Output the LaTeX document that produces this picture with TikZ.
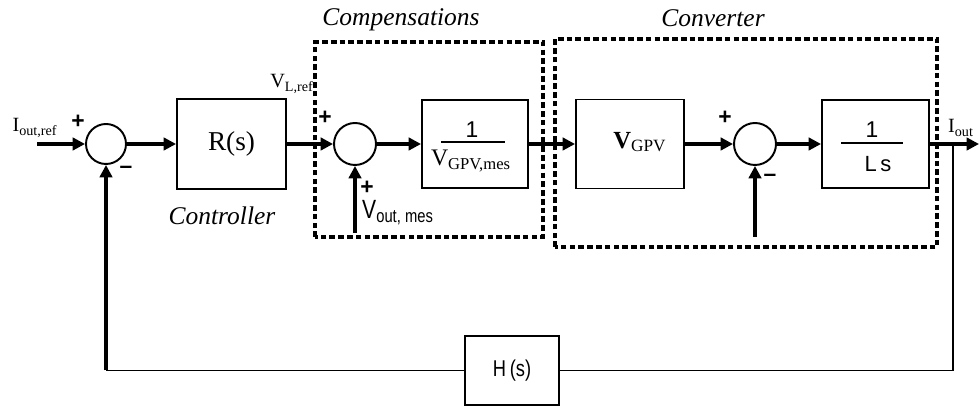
\documentclass[tikz,border=0pt]{standalone}
\usepackage{fontspec}
\setmainfont{Liberation Serif}
\newfontfamily\arialfont[Ligatures=TeX]{Liberation Sans}
\newfontfamily\narrowfont[FakeStretch=0.8]{Liberation Sans}
\usetikzlibrary{arrows.meta}

\begin{document}
\begin{tikzpicture}[
		scale=1,
		every node/.style={inner sep=0pt, font=\fontsize{11.5}{13}\selectfont},
		block/.style={rectangle, draw, line width=1.1pt, minimum width=2.16cm, minimum height=1.78cm},
		sumnode/.style={circle, draw, line width=1.1pt, minimum size=0.82cm},
		sign/.style={font=\arialfont\bfseries\fontsize{13}{13}\selectfont},
		caption/.style={font=\itshape\fontsize{14.5}{16}\selectfont},
		signal/.style={line width=1.8pt, -{Triangle[length=7pt, width=7pt]}},
		feedback/.style={line width=0.8pt},
		group/.style={draw, line width=2pt, dash pattern=on 3.2pt off 1.8pt}
	]
  \useasboundingbox (0,0) rectangle (19.58,8.12);
  \draw [group] (6.30,3.38) rectangle (10.86,7.28);
  \draw [group] (11.10,3.18) rectangle (18.74,7.34);
  \node (comp_label) [caption] at (8.02,7.72) {Compensations};
  \node (conv_label) [caption] at (14.26,7.76) {Converter};
  \coordinate (in) at (0.74,5.24);
  \node (in_label) at (0.70,5.56) {I\textsubscript{out,ref}};
  \node (sum1) [sumnode, minimum size=0.8cm] at (2.12,5.24) {};
  \node (sum1_plus) [sign] at (1.56,5.68) {+};
  \node (sum1_minus) [sign] at (2.52,4.72) {–};
  \node (R) [block, minimum width=2.18cm, minimum height=1.8cm, font=\fontsize{15.5}{17}\selectfont] at (4.63,5.24) {R(s)};
  \node (controller) [caption] at (4.44,3.80) {Controller};
  \node (VL_label) at (5.84,6.44) {V\textsubscript{L,ref}};
  \node (sum2) [sumnode, minimum size=0.84cm] at (7.10,5.24) {};
  \node (sum2_plus) [sign] at (6.50,5.76) {+};
  \node (sum2_plus_b) [sign] at (7.34,4.36) {+};
  \coordinate (vmes) at (7.10,3.46);
  \node (vmes_label) [font=\narrowfont\fontsize{15}{17}\selectfont] at (7.96,3.86) {V\textsubscript{out, mes}};
  \node (comp) [block, minimum width=2.12cm, minimum height=1.76cm] at (9.50,5.24) {};
  \node (comp_num) [font=\arialfont\fontsize{13}{14}\selectfont] at (9.44,5.52) {1};
  \draw [line width=1.2pt] (8.82,5.28) -- (10.10,5.28);
  \node (comp_den) [font=\fontsize{13.5}{15}\selectfont] at (9.42,4.90) {V\textsubscript{GPV,mes}};
  \node (VGPV) [block, minimum width=2.16cm, minimum height=1.78cm] at (12.60,5.24) {};
  \node (VGPV_text) [font=\fontsize{14}{15}\selectfont] at (12.80,5.28) {\textbf{V}\textsubscript{GPV}};
  \node (sum3) [sumnode, minimum size=0.84cm] at (15.10,5.24) {};
  \node (sum3_plus) [sign] at (14.50,5.76) {+};
  \node (sum3_minus) [sign] at (15.40,4.56) {–};
  \coordinate (vconv) at (15.10,3.38);
  \node (Ls) [block, minimum width=2.14cm, minimum height=1.76cm] at (17.51,5.24) {};
  \node (Ls_num) [font=\arialfont\fontsize{13}{14}\selectfont] at (17.44,5.52) {1};
  \draw [line width=1.2pt] (16.82,5.26) -- (18.06,5.26);
  \node (Ls_den) [font=\arialfont\fontsize{12.5}{14}\selectfont] at (17.56,4.84) {L\,s};
  \coordinate (branch) at (19.06,5.24);
  \coordinate (out) at (19.58,5.24);
  \node (out_label) at (19.22,5.56) {I\textsubscript{out}};
  \node (H) [block, line width=0.9pt, minimum width=1.88cm, minimum height=1.38cm, font=\narrowfont\fontsize{13}{15}\selectfont] at (10.24,0.71) {H\,(s)};
  \coordinate (fb_left) at (2.12,0.71);
  \draw [signal] (in) -- (sum1.west);
  \draw [signal] (sum1.east) -- (R.west);
  \draw [signal] (R.east) -- (sum2.west);
  \draw [signal] (sum2.east) -- (comp.west);
  \draw [signal] (comp.east) -- (VGPV.west);
  \draw [signal] (VGPV.east) -- (sum3.west);
  \draw [signal] (sum3.east) -- (Ls.west);
  \draw [signal] (Ls.east) -- (out);
  \draw [signal] (vmes) -- (sum2.south);
  \draw [signal] (vconv) -- (sum3.south);
  \draw [feedback] (branch) |- (H.east);
  \draw [feedback] (H.west) -- (fb_left);
  \draw [signal] (fb_left) -- (sum1.south);
\end{tikzpicture}
\end{document}
